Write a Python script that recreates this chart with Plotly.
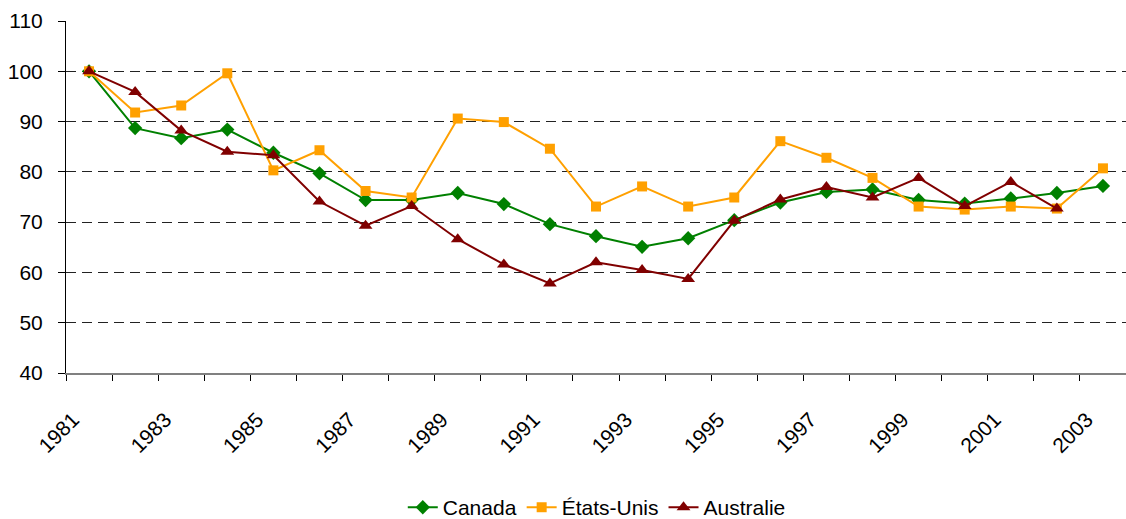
import plotly.graph_objects as go

years = list(range(1981, 2004))
canada = [100, 88.7, 86.7, 88.4, 83.8, 79.7, 74.4, 74.4, 75.8, 73.6, 69.6, 67.2, 65.1,
          66.8, 70.4, 73.9, 76.0, 76.5, 74.4, 73.7, 74.7, 75.8, 77.2]
usa = [100, 91.8, 93.2, 99.6, 80.3, 84.3, 76.2, 74.9, 90.6, 89.9, 84.6, 73.1, 77.1,
       73.1, 74.9, 86.1, 82.8, 78.8, 73.1, 72.5, 73.1, 72.7, 80.7]
australia = [100, 95.9, 88.2, 84.0, 83.3, 74.1, 69.3, 73.2, 66.6, 61.6, 57.8, 62.0, 60.5,
             58.7, 70.3, 74.5, 77.0, 74.9, 78.8, 73.2, 78.0, 72.7]
tick_labels = [str(y) for y in years[::2]]
y_ticks = [40, 50, 60, 70, 80, 90, 100, 110]

FONT = "Liberation Sans"

fig = go.Figure()
fig.add_trace(go.Scatter(x=years, y=canada, name="Canada", mode="lines+markers",
                         line=dict(color="#008000", width=2),
                         marker=dict(symbol="diamond", size=11, color="#008000")))
fig.add_trace(go.Scatter(x=years, y=usa, name="États-Unis", mode="lines+markers",
                         line=dict(color="#FFA000", width=2),
                         marker=dict(symbol="square", size=10, color="#FFA000")))
fig.add_trace(go.Scatter(x=years[:len(australia)], y=australia, name="Australie", mode="lines+markers",
                         line=dict(color="#800000", width=2),
                         marker=dict(symbol="triangle-up", size=12, color="#800000")))

fig.update_layout(
    width=1126, height=519,
    margin=dict(l=66, r=0, t=21, b=146),
    paper_bgcolor="white", plot_bgcolor="white",
    font=dict(family=FONT, size=20, color="black"),
    showlegend=True,
    legend=dict(orientation="h", x=0.53, xanchor="center", xref="container",
                y=0.022, yanchor="middle", yref="container",
                font=dict(family=FONT, size=21), bgcolor="rgba(0,0,0,0)"),
    xaxis=dict(range=[1980.5, 2003.5], tickmode="array", tickvals=years[::2], ticktext=tick_labels,
               tickangle=-45, ticks="", showgrid=False, zeroline=False,
               showline=True, linecolor="#808080", linewidth=2,
               ticklabelshift=-16, ticklabelstandoff=24,
               tickfont=dict(family=FONT, size=21),
               minor=dict(tick0=0.5, dtick=1, ticks="outside", ticklen=6, tickcolor="black",
                          tickwidth=1, showgrid=False)),
    yaxis=dict(range=[40, 110], tickmode="array", tickvals=y_ticks, ticks="outside", ticklen=7,
               tickcolor="black", showline=True, linecolor="black", linewidth=1,
               showgrid=True, gridcolor="#222222", gridwidth=1, griddash="10px,6px",
               zeroline=False, ticklabelstandoff=11, tickfont=dict(family=FONT, size=21)),
)

fig.write_html("out.html", config={"displayModeBar": False},
               post_script="document.body.style.margin='0';")
